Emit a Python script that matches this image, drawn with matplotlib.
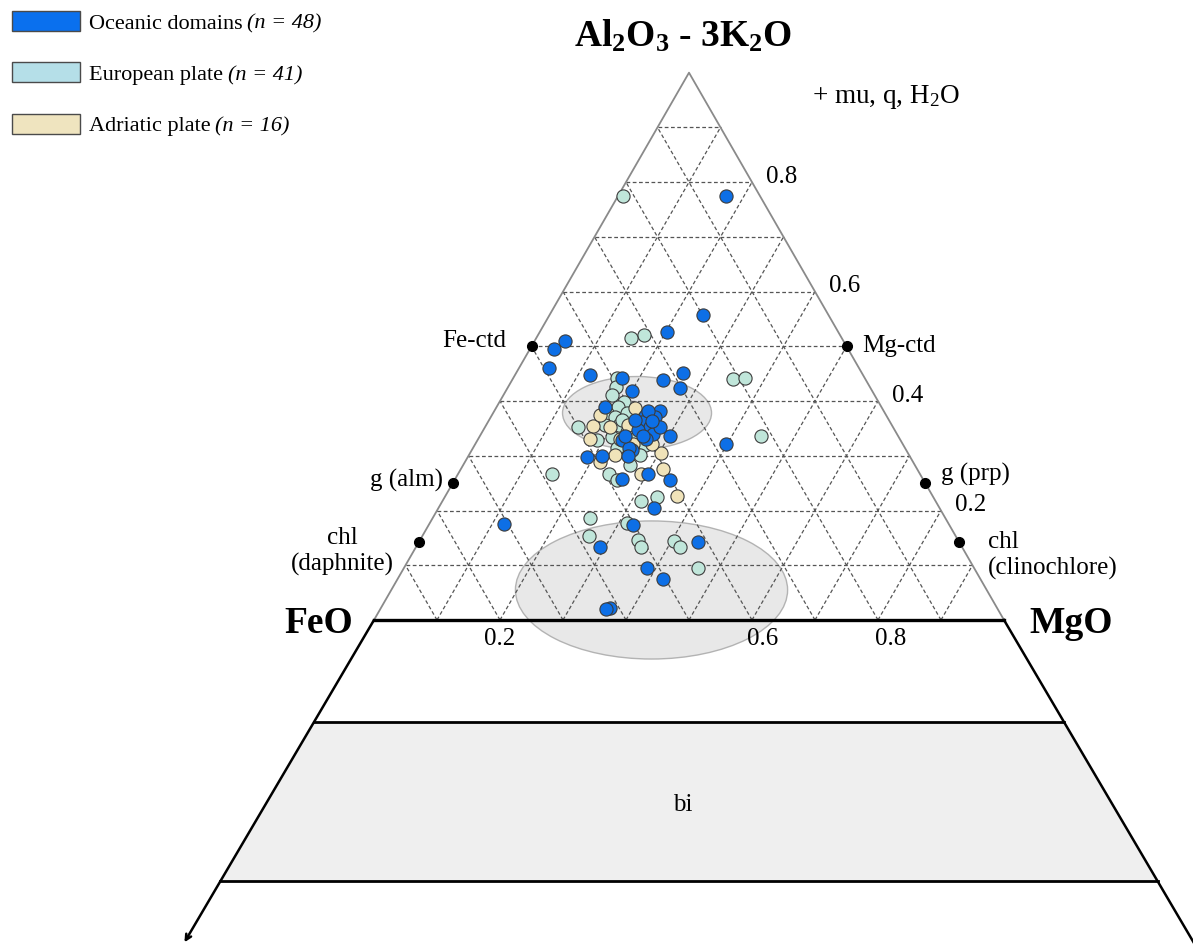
import numpy as np
import matplotlib.pyplot as plt
from matplotlib.patches import Ellipse, Polygon, Patch

plt.rcParams['font.family'] = ['Liberation Serif', 'DejaVu Serif']
plt.rcParams['mathtext.fontset'] = 'custom'
plt.rcParams['mathtext.rm'] = 'Liberation Serif'
plt.rcParams['mathtext.it'] = 'Liberation Serif:italic'
plt.rcParams['mathtext.bf'] = 'Liberation Serif:bold'

# compositions as fractions of A (Al2O3-3K2O) and M (MgO); F (FeO) = 1 - A - M
oce_A = [0.775, 0.557, 0.526, 0.509, 0.495, 0.460, 0.447, 0.452, 0.438, 0.423,
         0.443, 0.418, 0.321, 0.390, 0.381, 0.372, 0.370, 0.361, 0.353, 0.353,
         0.339, 0.337, 0.311, 0.328, 0.315, 0.299, 0.297, 0.299, 0.258, 0.266,
         0.255, 0.205, 0.176, 0.174, 0.134, 0.143, 0.095, 0.075, 0.022, 0.381,
         0.348, 0.352, 0.330, 0.366, 0.363, 0.337, 0.337, 0.020]
oce_M = [0.171, 0.244, 0.202, 0.048, 0.038, 0.048, 0.119, 0.264, 0.240, 0.274,
         0.172, 0.201, 0.399, 0.172, 0.264, 0.244, 0.261, 0.245, 0.261, 0.272,
         0.274, 0.302, 0.254, 0.230, 0.248, 0.254, 0.190, 0.213, 0.265, 0.302,
         0.343, 0.342, 0.118, 0.324, 0.292, 0.443, 0.386, 0.421, 0.364, 0.245,
         0.245, 0.278, 0.267, 0.231, 0.260, 0.259, 0.230, 0.358]

eur_A = [0.775, 0.520, 0.515, 0.443, 0.440, 0.443, 0.337, 0.425, 0.399, 0.390,
         0.379, 0.370, 0.379, 0.357, 0.352, 0.335, 0.328, 0.344, 0.342, 0.315,
         0.284, 0.344, 0.333, 0.319, 0.267, 0.267, 0.256, 0.225, 0.218, 0.187,
         0.178, 0.154, 0.147, 0.134, 0.145, 0.134, 0.095, 0.412, 0.366, 0.357,
         0.302]
eur_M = [0.007, 0.169, 0.151, 0.164, 0.350, 0.367, 0.445, 0.172, 0.198, 0.192,
         0.181, 0.198, 0.212, 0.211, 0.148, 0.211, 0.190, 0.230, 0.243, 0.229,
         0.264, 0.253, 0.250, 0.271, 0.149, 0.239, 0.258, 0.336, 0.315, 0.250,
         0.313, 0.264, 0.346, 0.357, 0.403, 0.419, 0.466, 0.172, 0.211, 0.188,
         0.271]

adr_A = [0.388, 0.355, 0.352, 0.288, 0.306, 0.267, 0.275, 0.227, 0.357, 0.321,
         0.330, 0.352, 0.375, 0.321, 0.302, 0.330]
adr_M = [0.220, 0.170, 0.199, 0.215, 0.303, 0.291, 0.322, 0.367, 0.224, 0.250,
         0.225, 0.254, 0.171, 0.281, 0.232, 0.178]

minerals = ['Fe-ctd', 'Mg-ctd', 'g (alm)', 'g (prp)', 'chl\n(daphnite)', 'chl\n(clinochlore)']
min_A = [0.5, 0.5, 0.25, 0.25, 0.143, 0.143]
min_M = [0.0, 0.5, 0.0, 0.75, 0.0, 0.857]

right_ticks = [0.2, 0.4, 0.6, 0.8]
base_ticks = [0.2, 0.6, 0.8]

groups = ['Oceanic domains', 'European plate', 'Adriatic plate']
group_n = [48, 41, 16]


def tern(a, m):
    a = np.asarray(a, dtype=float)
    m = np.asarray(m, dtype=float)
    return m + a / 2, a * np.sqrt(3) / 2


fig = plt.figure(figsize=(11.93, 9.46), dpi=100)
ax = fig.add_axes([0, 0, 1, 1])
ax.set_xlim(-374 / 630, 819 / 630)
ax.set_ylim(-326 / 632, 620 / 632)
ax.axis('off')

# dashed grid
for t in np.arange(0.1, 0.95, 0.1):
    for a0, m0, a1, m1 in [(t, 0, t, 1 - t), (0, t, 1 - t, t), (0, 1 - t, 1 - t, 0)]:
        x, y = tern([a0, a1], [m0, m1])
        ax.plot(x, y, ls=(0, (3, 2)), color='#555555', lw=0.9, zorder=2)

# triangle edges
x, y = tern([0, 1, 0, 0], [0, 0, 1, 0])
ax.plot(x, y, color='#8a8a8a', lw=1.3, zorder=2)

# the two grey fields
ax.add_patch(Ellipse((0.4175, 0.3275), 0.2365, 0.1155, facecolor='#e4e4e4',
                     edgecolor='#a8a8a8', lw=1, alpha=0.85, zorder=1))
ax.add_patch(Ellipse((0.4405, 0.0475), 0.432, 0.2185, facecolor='#e4e4e4',
                     edgecolor='#a8a8a8', lw=1, alpha=0.85, zorder=1))

# projection below the base
slope = 0.59
y1, y2 = -0.162, -0.413
ax.add_patch(Polygon([(-slope * -y1, y1), (1 + slope * -y1, y1),
                      (1 + slope * -y2, y2), (-slope * -y2, y2)],
                     closed=True, facecolor='#efefef', edgecolor='none', zorder=0))
for yy in [y1, y2]:
    ax.plot([-slope * -yy, 1 + slope * -yy], [yy, yy], color='black', lw=2, zorder=3)
ax.plot([1, 1 + slope * 0.55], [0, -0.55], color='black', lw=1.8, zorder=3)
ax.annotate('', xy=(-slope * 0.51, -0.51), xytext=(0, 0),
            arrowprops=dict(arrowstyle='->', lw=1.8, color='black', mutation_scale=10,
                            shrinkA=0, shrinkB=0), zorder=3)
ax.plot([0, 1], [0, 0], color='black', lw=2.4, zorder=3)
ax.text(0.49, (y1 + y2) / 2 - 0.005, 'bi', ha='center', va='center', fontsize=18)

# data
kw = dict(s=90, edgecolors='#3c3c3c', linewidths=0.8, zorder=4)
ax.scatter(*tern(eur_A, eur_M), c='#c0e6da', **kw)
ax.scatter(*tern(adr_A, adr_M), c='#f0e3b9', **kw)
ax.scatter(*tern(oce_A, oce_M), c='#0d6fe6', **kw)

# end-member compositions
mx, my = tern(min_A, min_M)
ax.plot(mx, my, 'o', color='black', ms=7, zorder=5, ls='none')
offsets = [(-18, 4, 'right'), (11, 0, 'left'), (-7, 2, 'right'),
           (11, 6, 'left'), (-55, -7, 'center'), (21, -10, 'left')]
for name, px, py, (dx, dy, ha) in zip(minerals, mx, my, offsets):
    ax.annotate(name, (px, py), xytext=(dx, dy), textcoords='offset points',
                ha=ha, va='center', fontsize=18, linespacing=1.2,
                multialignment='center' if ha == 'center' else 'left')

# tick labels
for v in right_ticks:
    tx, ty = tern(v, 1 - v)
    ax.annotate(f'{v:.1f}', (tx, ty), xytext=(10, 4), textcoords='offset points',
                ha='left', va='center', fontsize=18)
for v, dx in zip(base_ticks, [0, 8, 9]):
    tx, ty = tern(0, v)
    ax.annotate(f'{v:.1f}', (tx, ty), xytext=(dx, -14), textcoords='offset points',
                ha='center', va='center', fontsize=18)

# corner labels
ax.annotate('FeO', (0, 0), xytext=(-40, -9.5), textcoords='offset points',
            ha='center', va='baseline', fontsize=27, fontweight='bold')
ax.annotate('MgO', (1, 0), xytext=(48, -9.5), textcoords='offset points',
            ha='center', va='baseline', fontsize=27, fontweight='bold')
ax.annotate(r'Al$\mathbf{_2}$O$\mathbf{_3}$ - 3K$\mathbf{_2}$O', tern(1, 0), xytext=(-4, 19),
            textcoords='offset points', ha='center', va='baseline', fontsize=27,
            fontweight='bold')
fig.text(812 / 1193, 1 - 103 / 946, r'+ mu, q, H$_2$O', ha='left', va='baseline',
         fontsize=19.5)

# legend: plain group name, then italic sample size
handles = [Patch(facecolor=c, edgecolor='#4a4a4a', lw=1)
           for c in ['#0a70ee', '#b5dfe8', '#efe4bf']]
leg = fig.legend(handles, groups, loc='upper left', bbox_to_anchor=(12 / 1193, 1 - 11 / 946),
                 frameon=False, fontsize=16, handlelength=3.05, handleheight=1.0,
                 handletextpad=0.4, labelspacing=1.3, borderpad=0, borderaxespad=0)
fig.canvas.draw()
renderer = fig.canvas.get_renderer()
for txt, n in zip(leg.get_texts(), group_n):
    bb = txt.get_window_extent(renderer)
    x0, y0 = fig.transFigure.inverted().transform((bb.x1 + 5, (bb.y0 + bb.y1) / 2))
    fig.text(x0, y0, f'(n = {n})', ha='left', va='center', fontsize=16, style='italic')

fig.savefig('out.png', dpi=100)
